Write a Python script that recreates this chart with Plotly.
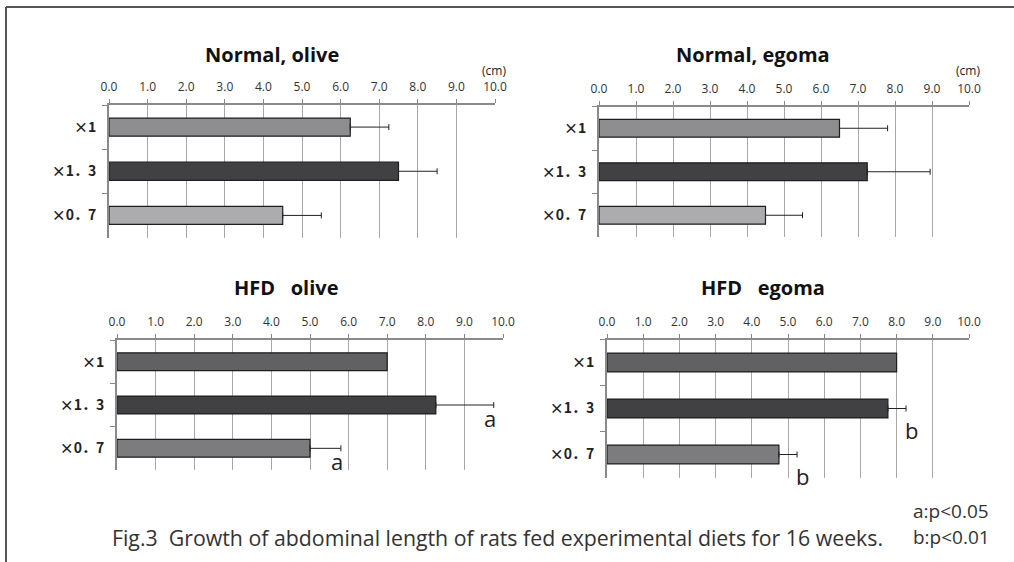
import plotly.graph_objects as go

W, H = 1014, 562

# ---- data ----
categories = ["×1", "×1．3", "×0．7"]
tick_vals = [0, 1, 2, 3, 4, 5, 6, 7, 8, 9, 10]

panel_titles = ["Normal, olive", "Normal, egoma", "HFD\u00a0\u00a0\u00a0olive", "HFD\u00a0\u00a0\u00a0egoma"]

normal_olive = [6.25, 7.5, 4.5]
normal_olive_err = [1.0, 1.0, 1.0]
normal_egoma = [6.5, 7.25, 4.5]
normal_egoma_err = [1.3, 1.7, 1.0]
hfd_olive = [7.0, 8.26, 5.0]
hfd_olive_err = [None, 1.5, 0.8]
hfd_egoma = [8.0, 7.76, 4.75]
hfd_egoma_err = [None, 0.5, 0.5]

hfd_olive_letters = ["", "a", "a"]
hfd_egoma_letters = ["", "b", "b"]

normal_colors = ["#8e8e90", "#414143", "#acacae"]
hfd_colors = ["#616163", "#414143", "#7c7c7e"]

caption = "Fig.3\u00a0\u00a0Growth of abdominal length of rats fed experimental diets for 16 weeks."
legend_lines = ["a:p<0.05", "b:p<0.01"]

# ---- layout helpers (pixel -> paper) ----
def px(x):
    return x / W

def py(y):
    return 1 - y / H

panels = [
    dict(vals=normal_olive, err=normal_olive_err, colors=normal_colors, x0=109, x1=495, y0=105, y1=237.5,
         title_x=272, title_y=54, cm=True, letters=None, lshift=(0, 0)),
    dict(vals=normal_egoma, err=normal_egoma_err, colors=normal_colors, x0=599, x1=969, y0=106.5, y1=237,
         title_x=753, title_y=54, cm=True, letters=None, lshift=(0, 0)),
    dict(vals=hfd_olive, err=hfd_olive_err, colors=hfd_colors, x0=117, x1=503, y0=340, y1=470,
         title_x=286, title_y=287, cm=False, letters=hfd_olive_letters, lshift=(-4, -13)),
    dict(vals=hfd_egoma, err=hfd_egoma_err, colors=hfd_colors, x0=607, x1=969, y0=339.5, y1=477.5,
         title_x=763, title_y=287, cm=False, letters=hfd_egoma_letters, lshift=(5, -21)),
]

fig = go.Figure()
annotations = []
label_font = dict(family="Noto Sans CJK JP", size=14, color="#222", weight="bold")
tick_font = dict(family="Open Sans", size=12, color="#333")

for i, p in enumerate(panels):
    n = "" if i == 0 else str(i + 1)
    err_plus = [e if e is not None else 0 for e in p["err"]]
    err_vis = [e is not None for e in p["err"]]
    fig.add_trace(go.Bar(
        x=p["vals"], y=categories, orientation="h",
        marker=dict(color=p["colors"], line=dict(color="#1e1e1e", width=1.2)),
        width=0.41,
        xaxis="x" + n, yaxis="y" + n, showlegend=False,
    ))
    ex = [v for v, ok in zip(p["vals"], err_vis) if ok]
    ey = [c for c, ok in zip(categories, err_vis) if ok]
    ee = [e for e, ok in zip(err_plus, err_vis) if ok]
    fig.add_trace(go.Scatter(
        x=ex, y=ey, mode="markers", marker=dict(size=0.1, color="rgba(0,0,0,0)"),
        error_x=dict(type="data", array=ee, arrayminus=[0] * len(ee), symmetric=False,
                     color="#222", thickness=1, width=3),
        xaxis="x" + n, yaxis="y" + n, showlegend=False, hoverinfo="skip",
    ))
    fig.update_layout(**{
        "xaxis" + n: dict(
            domain=[px(p["x0"]), px(p["x1"])], range=[0, 10], side="top",
            tickvals=tick_vals, tickformat=".1f", ticks="outside", ticklen=4, tickcolor="#888",
            tickwidth=1, showgrid=True, gridcolor="#a8a8a8", gridwidth=1,
            showline=True, linecolor="#8a8a8a", linewidth=2, zeroline=False,
            tickfont=tick_font, anchor="y" + n, fixedrange=True, ticklabelstandoff=3,
            automargin=False,
        ),
        "yaxis" + n: dict(
            domain=[py(p["y1"]), py(p["y0"])], type="category", categoryorder="array",
            categoryarray=categories, autorange="reversed", tickson="boundaries",
            ticks="outside", ticklen=5, tickcolor="#888", showline=True, linecolor="#8a8a8a",
            linewidth=2, showgrid=False, zeroline=False, tickfont=label_font,
            ticklabelstandoff=8, anchor="x" + n, fixedrange=True, automargin=False,
        ),
    })
    annotations.append(dict(
        text="<b>" + panel_titles[i] + "</b>", x=px(p["title_x"]), y=py(p["title_y"]),
        xref="paper", yref="paper", showarrow=False, xanchor="center", yanchor="middle",
        font=dict(family="Open Sans", size=20, color="#111"),
    ))
    if p["cm"]:
        annotations.append(dict(
            text="(cm)", x=px(p["x1"] - 1), y=py(71), xref="paper", yref="paper",
            showarrow=False, xanchor="center", yanchor="middle",
            font=dict(family="Open Sans", size=12, color="#222"),
        ))
    if p["letters"]:
        for c, v, e, L in zip(categories, p["vals"], err_plus, p["letters"]):
            if L:
                annotations.append(dict(
                    text=L, x=v + e, y=c, xref="x" + n, yref="y" + n, showarrow=False,
                    xanchor="center", yanchor="middle",
                    xshift=p["lshift"][0], yshift=p["lshift"][1],
                    font=dict(family="Open Sans", size=22, color="#222"),
                ))

annotations.append(dict(
    text=caption, x=px(497), y=py(537), xref="paper", yref="paper", showarrow=False,
    xanchor="center", yanchor="middle", font=dict(family="Open Sans", size=21.3, color="#333"),
))
for k, line in enumerate(legend_lines):
    annotations.append(dict(
        text=line, x=px(911), y=py(511 + 26 * k), xref="paper", yref="paper", showarrow=False,
        xanchor="left", yanchor="middle", font=dict(family="Open Sans", size=19, color="#333"),
    ))

shapes = [
    dict(type="line", xref="paper", yref="paper", x0=px(6), x1=px(6), y0=py(7), y1=0,
         line=dict(color="#555", width=2)),
    dict(type="line", xref="paper", yref="paper", x0=px(6), x1=1, y0=py(7), y1=py(7),
         line=dict(color="#555", width=2)),
]

fig.update_layout(
    width=W, height=H, margin=dict(l=0, r=0, t=0, b=0, autoexpand=False), autosize=False,
    paper_bgcolor="white", plot_bgcolor="white",
    annotations=annotations, shapes=shapes, bargap=0.6,
)

fig.write_html(
    "out.html",
    config={"displayModeBar": False, "responsive": False},
    post_script="document.body.style.margin='0px';document.body.style.overflow='hidden';",
)
